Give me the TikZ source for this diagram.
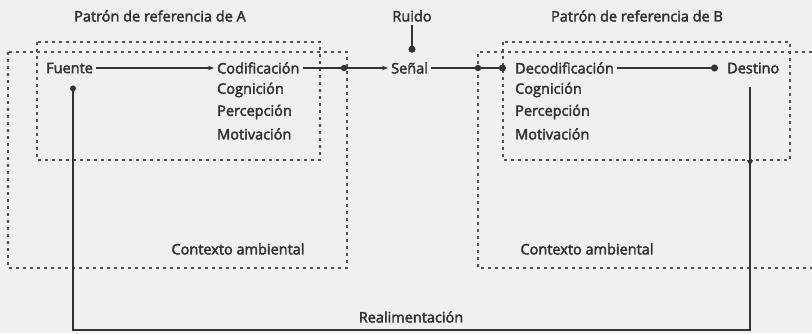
\documentclass[tikz,border=0pt]{standalone}
\usepackage{fontspec}
\setmainfont{Open Sans}[FakeBold=2.6]
\usetikzlibrary{arrows.meta,calc}
\definecolor{bg}{HTML}{F0F0F0}
\definecolor{ink}{HTML}{333333}
\begin{document}
\begin{tikzpicture}[x=1pt,y=-1pt,
  lbl/.style={font=\fontsize{14.5}{16}\selectfont, text=ink, inner sep=3pt},
  box/.style={draw=ink!85, line width=1.2pt, dash pattern=on 3pt off 4pt},
  conn/.style={draw=ink, line width=1.7pt},
  fb/.style={draw=ink, line width=2.3pt}]
\fill[bg] (0,0) rectangle (812,333);
\useasboundingbox (0,0) rectangle (812,333);
% boxes
\draw[box] (37,42) rectangle (320,160);
\draw[box] (8,52) rectangle (347,268);
\draw[box] (503,42) rectangle (790,160);
\draw[box] (812,52) -- (478,52) -- (478,268) -- (812,268);
% titles
\node[lbl] (titleA) at (160,16) {Patrón de referencia de A};
\node[lbl] (ruido) at (412,16) {Ruido};
\node[lbl] (titleB) at (637,16) {Patrón de referencia de B};
% A side
\node[lbl,anchor=west] (fuente) at (43,68) {Fuente};
\node[lbl,anchor=west] (cod) at (214,68) {Codificación};
\node[lbl,anchor=west] (cogA) at (214,90) {Cognición};
\node[lbl,anchor=west] (perA) at (214,112) {Percepción};
\node[lbl,anchor=west] (motA) at (214,134) {Motivación};
\node[lbl] (ctxA) at (238,249) {Contexto ambiental};
% signal
\node[lbl,anchor=west] (senal) at (388,68) {Señal};
% B side
\node[lbl,anchor=west] (decod) at (512,68) {Decodificación};
\node[lbl,anchor=west] (cogB) at (512,90) {Cognición};
\node[lbl,anchor=west] (perB) at (512,112) {Percepción};
\node[lbl,anchor=west] (motB) at (512,134) {Motivación};
\node[lbl,anchor=west] (destino) at (724,68) {Destino};
\node[lbl] (ctxB) at (587,249) {Contexto ambiental};
\node[lbl] (realim) at (411,317) {Realimentación};
% connectors
\draw[conn,-{Stealth[length=6pt,width=4.5pt]}] (fuente) -- (cod);
\draw[conn,-{Stealth[length=6pt,width=4.5pt]}] (cod) -- (senal);
\fill[ink] (344,68) circle (3.2pt);
\draw[conn,-{Circle[length=7pt]}] (senal) -- ([xshift=-6pt]decod.west);
\fill[ink] (478,68) circle (3.2pt);
\draw[conn,-{Circle[length=7pt]}] (decod) -- ([xshift=-6pt]destino.west);
\draw[conn,-{Circle[length=7pt]}] (ruido) -- ($(ruido.south)+(0,28)$);
% feedback
\coordinate (fbR) at (750,330);
\coordinate (fbL) at (73,330);
\draw[fb,-{Triangle[length=6pt,width=6pt]}] ($(destino.south -| fbR)+(0,10)$) -- (750,166);
\draw[fb] (750,160) -- (fbR) -- (fbL) -- ($(fuente.south -| fbL)+(0,11)$);
\fill[ink] ($(fuente.south -| fbL)+(0,12)$) circle (3pt);
\end{tikzpicture}
\end{document}
